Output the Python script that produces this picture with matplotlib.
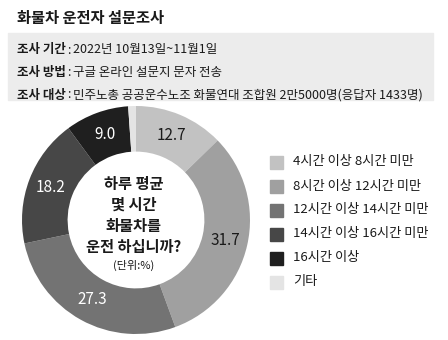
import matplotlib.pyplot as plt
import numpy as np
from matplotlib.patches import Rectangle

plt.rcParams["font.family"] = ["Noto Sans CJK KR", "DejaVu Sans"]

W, H = 448, 340

title = "화물차 운전자 설문조사"
info_keys = ["조사 기간", "조사 방법", "조사 대상"]
info_vals = [
    "2022년 10월13일~11월1일",
    "구글 온라인 설문지 문자 전송",
    "민주노총 공공운수노조 화물연대 조합원 2만5000명(응답자 1433명)",
]
categories = [
    "4시간 이상 8시간 미만",
    "8시간 이상 12시간 미만",
    "12시간 이상 14시간 미만",
    "14시간 이상 16시간 미만",
    "16시간 이상",
    "기타",
]
values = [12.7, 31.7, 27.3, 18.2, 9.0, 1.1]
colors = ["#c2c2c2", "#a0a0a0", "#737373", "#474747", "#1f1f1f", "#e4e4e4"]
label_colors = ["#1a1a1a", "#1a1a1a", "white", "white", "white", None]
center_text = "하루 평균\n몇 시간\n화물차를\n운전 하십니까?"


def fx(px):
    return px / W


def fy(py):
    return 1 - py / H


fig = plt.figure(figsize=(W / 100, H / 100), dpi=100)

# header
fig.text(fx(17), fy(18), title, fontsize=11, fontweight="bold",
         color="#1a1a1a", va="center")
fig.patches.append(Rectangle((fx(8), fy(100)), fx(425), (100 - 33) / H,
                             transform=fig.transFigure, color="#ececec",
                             zorder=0))
for i, (k, v) in enumerate(zip(info_keys, info_vals)):
    y = fy(50 + i * 22.5)
    fig.text(fx(17), y, k, fontsize=9, fontweight="bold", color="#1a1a1a",
             va="center")
    fig.text(fx(67), y, ":", fontsize=9, color="#1a1a1a", va="center")
    fig.text(fx(73), y, v, fontsize=9, color="#1a1a1a", va="center")

# donut
cx, cy, r = 136, 220, 114
ax = fig.add_axes([fx(cx - r), fy(cy + r), 2 * r / W, 2 * r / H])
wedges, _ = ax.pie(values, colors=colors, startangle=90, counterclock=False,
                   radius=1, wedgeprops=dict(width=0.4))
ax.set_xlim(-1, 1)
ax.set_ylim(-1, 1)
ax.set_aspect("equal")

for w, v, c in zip(wedges, values, label_colors):
    if c is None:
        continue
    ang = np.deg2rad((w.theta1 + w.theta2) / 2)
    ax.text(0.8 * np.cos(ang), 0.8 * np.sin(ang), f"{v:.1f}", color=c,
            fontsize=11, ha="center", va="center")

ax.text(-0.02, 0.04, center_text, ha="center", va="center", fontsize=11,
        fontweight="bold", color="#1a1a1a", linespacing=1.4)
ax.text(-0.02, -0.4, "(단위:%)", ha="center", va="center", fontsize=8,
        color="#1a1a1a")

# legend
for i, (lab, col) in enumerate(zip(categories, colors)):
    yc = 162 + i * 24
    fig.patches.append(Rectangle((fx(270), fy(yc + 6.5)), fx(13), 13 / H,
                                 transform=fig.transFigure, color=col))
    fig.text(fx(293), fy(yc), lab, fontsize=9.5, color="#1a1a1a",
             va="center")

fig.savefig("out.png", dpi=100)
